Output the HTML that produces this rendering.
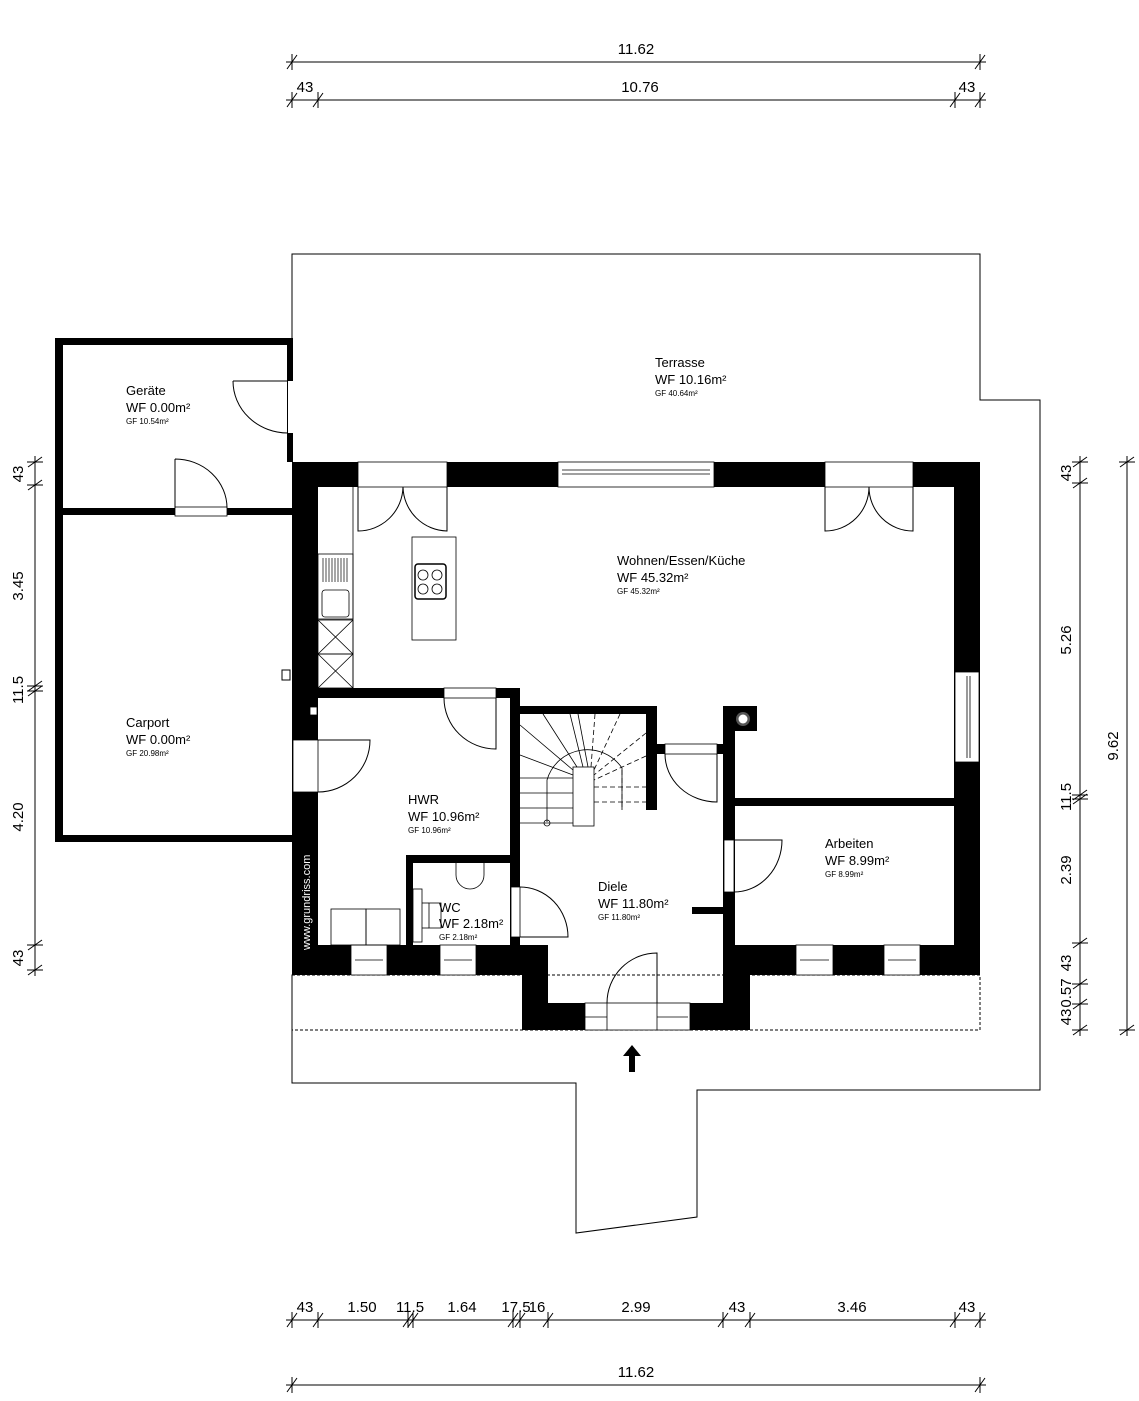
<!DOCTYPE html>
<html><head><meta charset="utf-8"><style>
html,body{margin:0;padding:0;background:#fff;}
svg{display:block;font-family:"Liberation Sans",sans-serif;}
</style></head><body>
<svg width="1139" height="1401" viewBox="0 0 1139 1401" xmlns="http://www.w3.org/2000/svg">
<g fill="none" stroke="#000" stroke-width="1">
<!-- outer terrace outline -->
<polyline points="292,462 292,254 980,254 980,400 1040,400 1040,1090 697,1090 697,1217 576,1233 576,1083 292,1083 292,975"/>
<rect x="292" y="975" width="688" height="55" stroke-dasharray="3,2"/>
</g>
<!-- Geräte / Carport -->
<g fill="#000">
<rect x="55" y="338" width="237" height="7"/>
<rect x="55" y="338" width="8" height="504"/>
<rect x="287" y="338" width="6" height="124"/>
<rect x="55" y="508" width="237" height="7"/>
<rect x="55" y="835" width="237" height="7"/>
</g>
<rect x="288" y="381" width="5" height="52" fill="#fff"/>
<rect x="175" y="507" width="52" height="9" fill="#fff" stroke="#000" stroke-width="0.8"/>
<g fill="none" stroke="#000" stroke-width="1">
<path d="M233,381 L288,381 M233,381 A55,52 0 0 0 288,433"/>
<path d="M175,459 L175,508 M175,459 A52,49 0 0 1 227,508"/>
</g>
<!-- main walls -->
<g fill="#000">
<rect x="292" y="462" width="688" height="25"/>
<rect x="292" y="462" width="26" height="513"/>
<rect x="954" y="462" width="26" height="483"/>
<rect x="292" y="945" width="256" height="30"/>
<rect x="723" y="945" width="257" height="30"/>
<rect x="522" y="945" width="26" height="85"/>
<rect x="723" y="945" width="27" height="85"/>
<rect x="522" y="1003" width="228" height="27"/>
<rect x="318" y="688" width="202" height="10"/>
<rect x="510" y="688" width="10" height="257"/>
<rect x="520" y="706" width="137" height="8"/>
<rect x="646" y="706" width="11" height="104"/>
<rect x="646" y="744" width="89" height="10"/>
<rect x="723" y="706" width="12" height="239"/>
<rect x="723" y="706" width="34" height="25"/>
<rect x="723" y="798" width="257" height="8"/>
<rect x="406" y="855" width="114" height="8"/>
<rect x="406" y="855" width="7" height="90"/>
<rect x="692" y="907" width="31" height="7"/>
<rect x="282" y="670" width="8" height="10" fill="#fff" stroke="#000"/>
</g>
<!-- openings in walls -->
<g fill="#fff" stroke="#000" stroke-width="0.8">
<rect x="358" y="462" width="89" height="25"/>
<rect x="558" y="462" width="156" height="25"/>
<rect x="825" y="462" width="88" height="25"/>
<rect x="955" y="672" width="24" height="90"/>
<rect x="293" y="740" width="25" height="52"/>
<rect x="444" y="688" width="52" height="10"/>
<rect x="665" y="744" width="52" height="10"/>
<rect x="724" y="840" width="10" height="52"/>
<rect x="511" y="887" width="9" height="50"/>
<rect x="351" y="945" width="36" height="30"/>
<rect x="440" y="945" width="36" height="30"/>
<rect x="796" y="945" width="37" height="30"/>
<rect x="884" y="945" width="36" height="30"/>
<rect x="585" y="1003" width="105" height="27"/>
<rect x="310" y="707" width="7" height="8"/>
</g>
<circle cx="743" cy="719" r="7" fill="#555"/><circle cx="743" cy="719" r="4.5" fill="#fff"/>
<g stroke="#000" stroke-width="0.8" fill="none">
<line x1="562" y1="474" x2="710" y2="474"/><line x1="562" y1="470" x2="710" y2="470"/>
<line x1="967" y1="676" x2="967" y2="758"/><line x1="970" y1="676" x2="970" y2="758"/>
<line x1="355" y1="960" x2="383" y2="960"/><line x1="444" y1="960" x2="472" y2="960"/>
<line x1="800" y1="960" x2="829" y2="960"/><line x1="888" y1="960" x2="916" y2="960"/>
<line x1="585" y1="1017" x2="607" y2="1017"/><line x1="657" y1="1017" x2="688" y2="1017"/>
<line x1="607" y1="1003" x2="607" y2="1030"/><line x1="657" y1="1003" x2="657" y2="1030"/>
</g>
<!-- doors -->
<g fill="none" stroke="#000" stroke-width="1">
<path d="M358,487 V531 A45,45 0 0 0 403,487"/>
<path d="M447,487 V531 A45,45 0 0 1 403,487"/>
<path d="M825,487 V531 A44,44 0 0 0 869,487"/>
<path d="M913,487 V531 A44,44 0 0 1 869,487"/>
<path d="M318,740 H370 A52,52 0 0 1 318,792"/>
<path d="M496,698 V749 A52,51 0 0 1 444,698"/>
<path d="M717,754 V802 A52,48 0 0 1 665,754"/>
<path d="M734,840 H782 A48,52 0 0 1 734,892"/>
<path d="M520,887 A48,50 0 0 1 568,937 H520"/>
<path d="M657,1003 V953 A50,50 0 0 0 607,1003"/>
</g>
<!-- kitchen -->
<g fill="none" stroke="#000" stroke-width="0.8">
<line x1="353" y1="487" x2="353" y2="688"/>
<rect x="318" y="554" width="35" height="65"/>
<rect x="322" y="590" width="27" height="27" rx="3"/>
<rect x="318" y="620" width="35" height="34"/><path d="M318,620 L353,654 M353,620 L318,654"/>
<rect x="318" y="654" width="35" height="34"/><path d="M318,654 L353,688 M353,654 L318,688"/>
<rect x="412" y="537" width="44" height="103"/>
<rect x="415" y="564" width="31" height="35" rx="3" stroke-width="1.5"/>
<circle cx="423" cy="575" r="5"/><circle cx="437" cy="575" r="5"/><circle cx="423" cy="589" r="5"/><circle cx="437" cy="589" r="5"/>
</g>
<g stroke="#000" stroke-width="0.7"><path d="M323,558V582M326,558V582M329,558V582M332,558V582M335,558V582M338,558V582M341,558V582M344,558V582M347,558V582"/></g>
<!-- stairs -->
<g fill="none" stroke="#000" stroke-width="0.8">
<rect x="573" y="767" width="21" height="59"/>
<line x1="520" y1="778" x2="573" y2="778"/><line x1="520" y1="793" x2="573" y2="793"/><line x1="520" y1="808" x2="573" y2="808"/><line x1="520" y1="823" x2="573" y2="823"/>
<path d="M520,725 L573,770 M520,755 L573,775 M543,714 L577,767 M570,714 L583,767 M578,714 L588,767"/>
<path d="M547,822 V780 A42,42 0 0 1 622,768 V810"/>
<circle cx="547" cy="823" r="3"/>
</g>
<g fill="none" stroke="#000" stroke-width="0.8" stroke-dasharray="5,3">
<path d="M595,714 L591,767 M620,714 L594,770 M646,733 L594,775 M646,756 L594,780 M594,787 H646 M594,802 H646 M622,770 V808"/>
</g>
<!-- WC / HWR fixtures -->
<g fill="none" stroke="#000" stroke-width="0.8">
<path d="M456,863 V875 A14,14 0 0 0 484,875 V863"/>
<rect x="331" y="909" width="35" height="36"/><rect x="366" y="909" width="34" height="36"/>
<rect x="413" y="889" width="9" height="53"/><rect x="429" y="903" width="12" height="25"/><line x1="422" y1="903" x2="429" y2="903"/><line x1="422" y1="928" x2="429" y2="928"/>
</g>
<!-- arrow -->
<path d="M632,1045 L641,1056 L635,1056 L635,1072 L629,1072 L629,1056 L623,1056 Z" fill="#000"/>
<!-- labels -->
<g fill="#000" font-size="13">
<text x="126" y="395">Geräte</text><text x="126" y="412">WF 0.00m²</text><text x="126" y="424" font-size="8">GF 10.54m²</text>
<text x="126" y="727">Carport</text><text x="126" y="744">WF 0.00m²</text><text x="126" y="756" font-size="8">GF 20.98m²</text>
<text x="655" y="367">Terrasse</text><text x="655" y="384">WF 10.16m²</text><text x="655" y="396" font-size="8">GF 40.64m²</text>
<text x="617" y="565">Wohnen/Essen/Küche</text><text x="617" y="582">WF 45.32m²</text><text x="617" y="594" font-size="8">GF 45.32m²</text>
<text x="408" y="804">HWR</text><text x="408" y="821">WF 10.96m²</text><text x="408" y="833" font-size="8">GF 10.96m²</text>
<text x="439" y="912">WC</text><text x="439" y="928">WF 2.18m²</text><text x="439" y="940" font-size="8">GF 2.18m²</text>
<text x="598" y="891">Diele</text><text x="598" y="908">WF 11.80m²</text><text x="598" y="920" font-size="8">GF 11.80m²</text>
<text x="825" y="848">Arbeiten</text><text x="825" y="865">WF 8.99m²</text><text x="825" y="877" font-size="8">GF 8.99m²</text>
</g>
<text x="0" y="0" font-size="11" fill="#fff" transform="translate(310,950) rotate(-90)">www.grundriss.com</text>
<!-- dimension lines -->
<g stroke="#000" stroke-width="1" fill="none">
<line x1="286" y1="62" x2="986" y2="62"/>
<line x1="286" y1="100" x2="986" y2="100"/>
<line x1="286" y1="1320" x2="986" y2="1320"/>
<line x1="286" y1="1385" x2="986" y2="1385"/>
<line x1="35" y1="456" x2="35" y2="976"/>
<line x1="1080" y1="456" x2="1080" y2="1036"/>
<line x1="1127" y1="456" x2="1127" y2="1036"/>
<g id="ticks">
<path d="M292,54V70M287,69L297,55 M980,54V70M975,69L985,55"/>
<path d="M292,92V108M287,107L297,93 M318,92V108M313,107L323,93 M955,92V108M950,107L960,93 M980,92V108M975,107L985,93"/>
<path d="M292,1312V1328M287,1327L297,1313 M318,1312V1328M313,1327L323,1313 M408,1312V1328M403,1327L413,1313 M413,1312V1328M408,1327L418,1313 M513,1312V1328M508,1327L518,1313 M520,1312V1328M515,1327L525,1313 M548,1312V1328M543,1327L553,1313 M723,1312V1328M718,1327L728,1313 M750,1312V1328M745,1327L755,1313 M955,1312V1328M950,1327L960,1313 M980,1312V1328M975,1327L985,1313"/>
<path d="M292,1377V1393M287,1392L297,1378 M980,1377V1393M975,1392L985,1378"/>
<path d="M27,462H43M28,467L42,457 M27,485H43M28,490L42,480 M27,686H43M28,691L42,681 M27,691H43M28,696L42,686 M27,945H43M28,950L42,940 M27,970H43M28,975L42,965"/>
<path d="M1072,462H1088M1073,467L1087,457 M1072,483H1088M1073,488L1087,478 M1072,795H1088M1073,800L1087,790 M1072,799H1088M1073,804L1087,794 M1072,943H1088M1073,948L1087,938 M1072,984H1088M1073,989L1087,979 M1072,1004H1088M1073,1009L1087,999 M1072,1030H1088M1073,1035L1087,1025"/>
<path d="M1119,462H1135M1120,467L1134,457 M1119,1030H1135M1120,1035L1134,1025"/>
</g>
</g>
<g fill="#000" font-size="15" text-anchor="middle">
<text x="636" y="54">11.62</text>
<text x="305" y="92">43</text><text x="640" y="92">10.76</text><text x="967" y="92">43</text>
<text x="305" y="1312">43</text><text x="362" y="1312">1.50</text><text x="410" y="1312">11.5</text><text x="462" y="1312">1.64</text><text x="516" y="1312">17.5</text><text x="537" y="1312">16</text><text x="636" y="1312">2.99</text><text x="737" y="1312">43</text><text x="852" y="1312">3.46</text><text x="967" y="1312">43</text>
<text x="636" y="1377">11.62</text>
<text transform="translate(23,474) rotate(-90)">43</text>
<text transform="translate(23,586) rotate(-90)">3.45</text>
<text transform="translate(23,690) rotate(-90)">11.5</text>
<text transform="translate(23,817) rotate(-90)">4.20</text>
<text transform="translate(23,958) rotate(-90)">43</text>
<text transform="translate(1071,473) rotate(-90)">43</text>
<text transform="translate(1071,640) rotate(-90)">5.26</text>
<text transform="translate(1071,797) rotate(-90)">11.5</text>
<text transform="translate(1071,870) rotate(-90)">2.39</text>
<text transform="translate(1071,963) rotate(-90)">43</text>
<text transform="translate(1071,993) rotate(-90)">0.57</text>
<text transform="translate(1071,1017) rotate(-90)">43</text>
<text transform="translate(1118,746) rotate(-90)">9.62</text>
</g>
</svg>
</body></html>
